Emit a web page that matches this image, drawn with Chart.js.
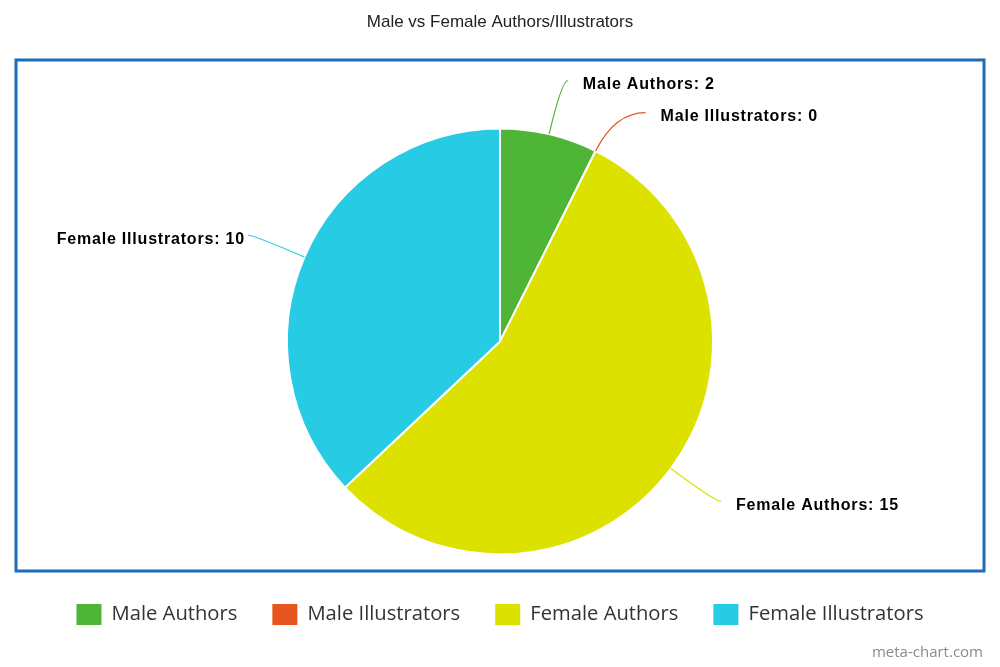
<!DOCTYPE html>
<html>
<head>
<meta charset="utf-8">
<script src="https://cdn.jsdelivr.net/npm/chart.js@4.4.1/dist/chart.umd.min.js"></script>
<style>
  html, body { margin: 0; padding: 0; background: #ffffff; }
  #wrap { width: 1000px; height: 667px; }
</style>
</head>
<body>
<div id="wrap"><canvas id="c" width="1000" height="667"></canvas></div>
<script>
const chartTitle = 'Male vs Female Authors/Illustrators';
const categories = ['Male Authors', 'Male Illustrators', 'Female Authors', 'Female Illustrators'];
const counts = [2, 0, 15, 10];
const sliceColors = ['#4fb537', '#e8561f', '#dce100', '#27cbe4'];
const watermark = 'meta-chart.com';

const framePlugin = {
  id: 'frame',
  beforeDraw(chart) {
    const ctx = chart.ctx;
    ctx.save();
    ctx.fillStyle = '#ffffff';
    ctx.fillRect(0, 0, chart.width, chart.height);
    ctx.strokeStyle = '#1c6db4';
    ctx.lineWidth = 3;
    ctx.strokeRect(16, 60, 968, 511);
    ctx.restore();
  },
  afterDraw(chart) {
    const ctx = chart.ctx;
    ctx.save();
    ctx.fillStyle = '#8a8a8a';
    ctx.font = '15px "Open Sans"';
    ctx.textAlign = 'right';
    ctx.textBaseline = 'middle';
    ctx.fillText(watermark, 983, 653);
    ctx.restore();
  }
};

const outLabelPlugin = {
  id: 'outLabels',
  afterDatasetsDraw(chart) {
    const ctx = chart.ctx;
    const meta = chart.getDatasetMeta(0);
    const ds = chart.data.datasets[0];
    const R = 268, minGap = 32, hook = 6;
    const items = meta.data.map((arc, i) => {
      const mid = (arc.startAngle + arc.endAngle) / 2;
      const cx = arc.x, cy = arc.y, r = arc.outerRadius;
      const cos = Math.cos(mid), sin = Math.sin(mid);
      return {
        i, cx, cy, r, cos, sin,
        right: cos >= 0,
        ex: cx + cos * r, ey: cy + sin * r,
        y: cy + sin * R
      };
    });
    ['right', 'left'].forEach(side => {
      const group = items.filter(o => (side === 'right') === o.right).sort((a, b) => a.y - b.y);
      for (let k = 1; k < group.length; k++) {
        if (group[k].y < group[k - 1].y + minGap) group[k].y = group[k - 1].y + minGap;
      }
    });
    ctx.save();
    items.forEach(o => {
      const dy = o.y - o.cy;
      const dx = Math.sqrt(Math.max(R * R - dy * dy, 0));
      const ax = o.cx + (o.right ? 1 : -1) * (dx + hook);
      const ay = o.y;
      let t = Math.abs(o.sin) > 0.05 ? (ay - o.ey) / o.sin : 0;
      let qx = o.ex + o.cos * t, qy = ay;
      if (!(t > 0) || !isFinite(t)) { qx = (o.ex + ax) / 2; qy = (o.ey + ay) / 2; }
      ctx.strokeStyle = sliceColors[o.i];
      ctx.lineWidth = 1.2;
      ctx.beginPath();
      ctx.moveTo(o.ex, o.ey);
      ctx.quadraticCurveTo(qx, qy, ax, ay);
      ctx.stroke();

      ctx.fillStyle = '#000000';
      ctx.font = 'bold 16px "Liberation Sans", Arial, sans-serif';
      ctx.letterSpacing = '0.8px';
      ctx.textBaseline = 'middle';
      const txt = chart.data.labels[o.i] + ': ' + ds.data[o.i];
      if (o.right) {
        ctx.textAlign = 'left';
        ctx.fillText(txt, ax + 15, ay + 4);
      } else {
        ctx.textAlign = 'right';
        ctx.fillText(txt, ax - 3, ay + 4);
      }
    });
    ctx.restore();
  }
};

new Chart(document.getElementById('c'), {
  type: 'pie',
  data: {
    labels: categories,
    datasets: [{
      data: counts,
      backgroundColor: sliceColors,
      borderColor: '#ffffff',
      borderWidth: 2,
      radius: 213
    }]
  },
  options: {
    responsive: false,
    devicePixelRatio: 1,
    animation: false,
    layout: { padding: { top: 0, bottom: 32, left: 0, right: 0 } },
    plugins: {
      tooltip: { enabled: false },
      title: {
        display: true,
        text: chartTitle,
        color: '#222222',
        font: { family: '"Liberation Sans", Arial, sans-serif', size: 17, weight: 'normal' },
        padding: { top: 12, bottom: 81.4 }
      },
      legend: {
        position: 'bottom',
        labels: {
          color: '#333333',
          font: { family: '"Open Sans", sans-serif', size: 20.2 },
          boxWidth: 25,
          boxHeight: 21,
          padding: 35,
          generateLabels(chart) {
            const items = Chart.overrides.pie.plugins.legend.labels.generateLabels(chart);
            return items.map(it => Object.assign(it, { lineWidth: 0, strokeStyle: it.fillStyle }));
          }
        }
      }
    }
  },
  plugins: [framePlugin, outLabelPlugin]
});
</script>
</body>
</html>
